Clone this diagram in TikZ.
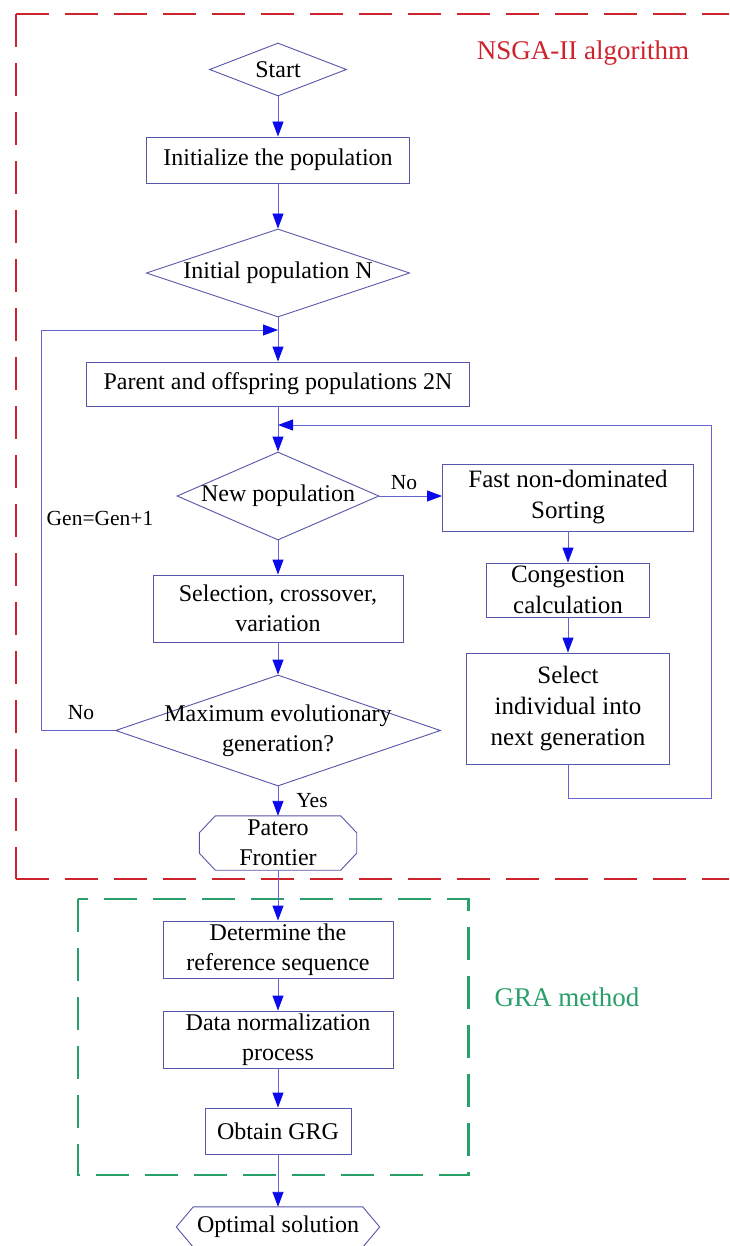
\documentclass[tikz,border=0pt]{standalone}
\usepackage{fontspec}
\setmainfont{Liberation Serif}
\usetikzlibrary{arrows.meta,shapes.geometric,calc}
\definecolor{boxc}{RGB}{85,85,170}
\definecolor{linec}{RGB}{100,100,210}
\definecolor{tipc}{RGB}{10,10,235}
\definecolor{redc}{RGB}{205,35,45}
\definecolor{greenc}{RGB}{40,160,105}
\begin{document}
\begin{tikzpicture}[x=1pt,y=-1pt,
  box/.style={rectangle, draw=boxc, line width=0.9pt, inner sep=0pt, align=center, font=\fontsize{24}{30}\selectfont},
  bigbox/.style={box, font=\fontsize{25}{31}\selectfont},
  dia/.style 2 args={diamond, draw=boxc, line width=0.9pt, inner sep=0pt, minimum width=#1, minimum height=#2},
  txt/.style={align=center, inner sep=0pt, font=\fontsize{24}{30}\selectfont},
  small/.style={inner sep=0pt, font=\fontsize{21.5}{26}\selectfont},
  grouplabel/.style={inner sep=0pt, font=\fontsize{27}{30}\selectfont},
  conn/.style={draw=linec, line width=0.9pt, -{Triangle[length=15pt,width=11pt,color=tipc]}},
  hexline/.style={draw=boxc, line width=0.9pt},
  frame/.style={line width=2.2pt, dash pattern=on 33pt off 16pt},
]
\useasboundingbox (0,0) rectangle (729,1246);
\fill[white] (0,0) rectangle (729,1246);

% group frames
\draw[frame, draw=redc] (16,14) -- (729,14);
\draw[frame, draw=redc] (16,14) -- (16,879);
\draw[frame, draw=redc] (16,879) -- (729,879);
\draw[frame, draw=greenc] (78,899) rectangle (468.5,1175);

\node[grouplabel, text=redc] (nsga) at (583,53) {NSGA-II algorithm};
\node[grouplabel, text=greenc] (gra) at (567,997) {GRA method};

% main column
\node[dia={137}{53}] (start) at (278,69.5) {};
\node[txt] (startt) at (start) {Start};
\node[box, minimum width=263.5, minimum height=46] (init) at (278,160) {Initialize the population};
\node[dia={263.5}{88}] (initd) at (278,273) {};
\node[txt] (initdt) at (initd) {Initial population N};
\node[box, minimum width=383, minimum height=44] (parent) at (278,384) {Parent and offspring populations 2N};
\node[dia={202}{88}] (newd) at (278,496) {};
\node[txt] (newdt) at (newd) {New population};
\node[box, minimum width=250, minimum height=67] (selc) at (278,608.5) {Selection, crossover,\\variation};
\node[dia={325}{111}] (maxd) at (278,730.5) {};
\node[txt] (maxdt) at (maxd) {Maximum evolutionary\\generation?};
\node[txt, minimum width=157, minimum height=54] (patero) at (278,843) {Patero\\Frontier};
\node[box, minimum width=230, minimum height=57] (det) at (278,949.5) {Determine the\\reference sequence};
\node[box, minimum width=230, minimum height=57] (data) at (278,1039.5) {Data normalization\\process};
\node[box, minimum width=146, minimum height=46] (obtain) at (278,1131) {Obtain GRG};
\node[txt, minimum width=203, minimum height=40] (opt) at (278,1227) {Optimal solution};

% right column
\node[bigbox, minimum width=251, minimum height=67] (fast) at (568,497.5) {Fast non-dominated\\Sorting};
\node[bigbox, minimum width=163, minimum height=54] (cong) at (568,590) {Congestion\\calculation};
\node[bigbox, minimum width=203, minimum height=111] (sel2) at (568,708.5) {Select\\individual into\\next generation};

% terminal shapes
\draw[hexline] ([xshift=16pt]patero.north west) -- ([xshift=-16pt]patero.north east)
  -- ([yshift=-17pt]patero.north east) -- ([yshift=17pt]patero.south east)
  -- ([xshift=-16pt]patero.south east) -- ([xshift=16pt]patero.south west)
  -- ([yshift=17pt]patero.south west) -- ([yshift=-17pt]patero.north west) -- cycle;
\draw[hexline] ([xshift=17pt]opt.north west) -- ([xshift=-17pt]opt.north east)
  -- (opt.east) -- ([xshift=-17pt]opt.south east) -- ([xshift=17pt]opt.south west)
  -- (opt.west) -- cycle;

% labels
\node[small] (gen) at (100,518) {Gen=Gen+1};
\node[small] (no1) at (404,483) {No};
\node[small] (no2) at (81,713) {No};
\node[small] (yes) at (312,801) {Yes};

% junctions
\coordinate (j1) at (278,330);
\coordinate (lc) at (41,330);
\coordinate (j2) at (278,425);
\coordinate (rc) at (711,798);

% connectors
\draw[conn] (start.south) -- (init.north);
\draw[conn] (init.south) -- (initd.north);
\draw[conn] (initd.south) -- (parent.north);
\draw[conn] (maxd.west) -| (lc) -- (j1);
\draw[conn] (parent.south) -- (newd.north);
\draw[conn] (newd.east) -- (newd.east -| fast.west);
\draw[conn] (fast.south) -- (cong.north);
\draw[conn] (cong.south) -- (sel2.north);
\draw[conn] (sel2.south) |- (rc) |- (j2);
\draw[conn] (newd.south) -- (selc.north);
\draw[conn] (selc.south) -- (maxd.north);
\draw[conn] (maxd.south) -- (patero.north);
\draw[conn] (patero.south) -- (det.north);
\draw[conn] (det.south) -- (data.north);
\draw[conn] (data.south) -- (obtain.north);
\draw[conn] (obtain.south) -- (opt.north);
\end{tikzpicture}
\end{document}
